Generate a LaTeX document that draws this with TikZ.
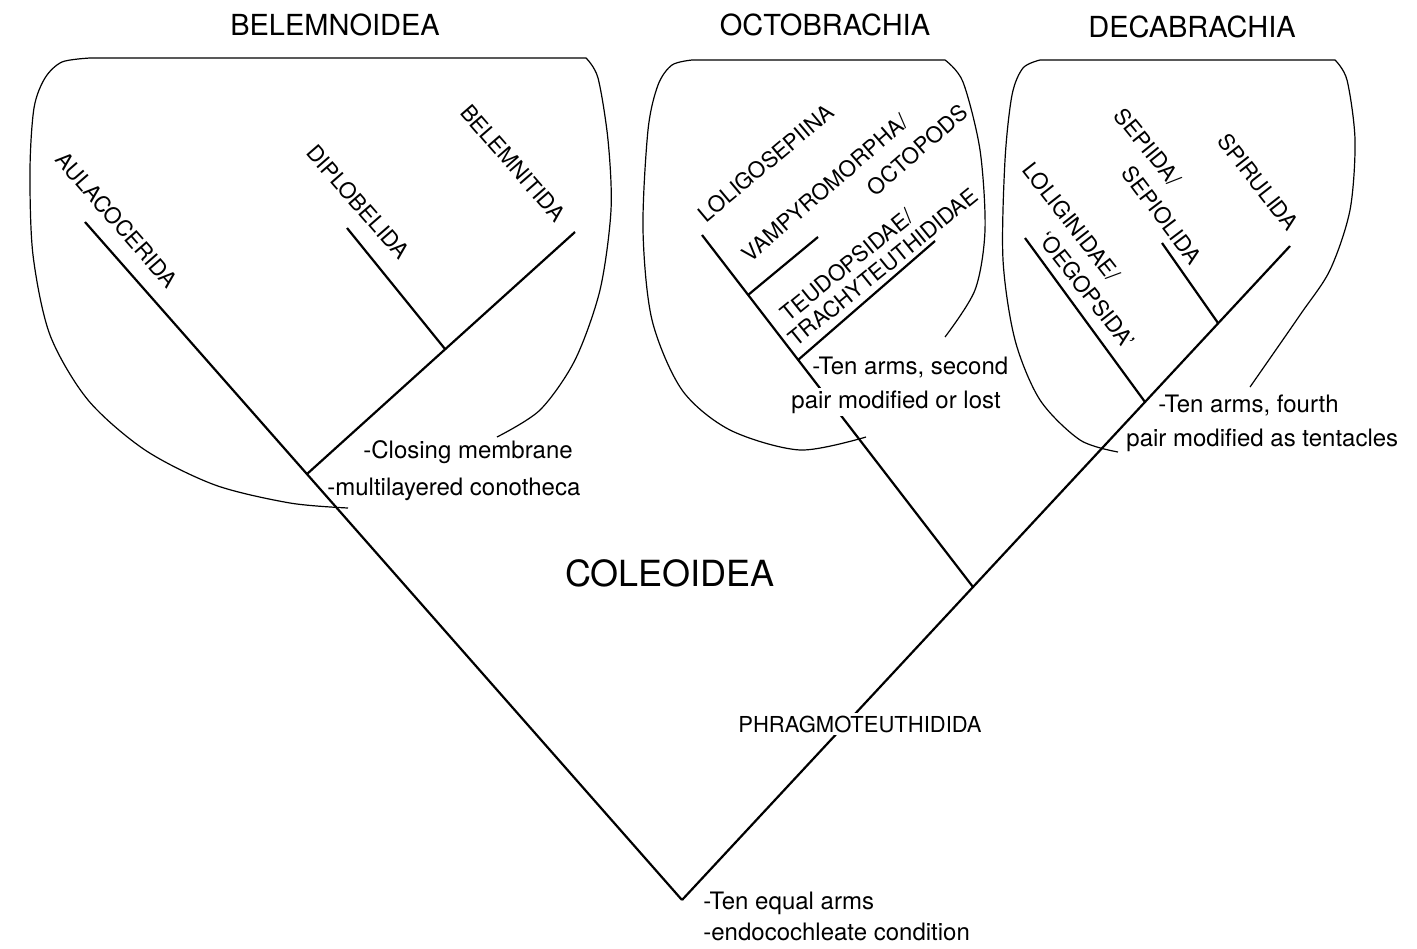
\documentclass[tikz,border=0pt]{standalone}
\usepackage{fontspec}
\setmainfont{TeX Gyre Heros}

\begin{document}
\begin{tikzpicture}[x=0.5pt,y=-0.5pt,
  branch/.style={line width=1.1pt},
  outline/.style={line width=0.6pt},
  taxon/.style={font=\fontsize{11}{13}\selectfont, inner sep=0pt},
  clade/.style={font=\fontsize{14.5}{17}\selectfont, inner sep=0pt},
  trait/.style={font=\fontsize{12}{14}\selectfont, anchor=west, inner sep=0pt},
  gap/.style={fill=white, inner sep=1.5pt}]
  \useasboundingbox (0,0) rectangle (1417,948);

  % branching points and tips
  \coordinate (root)   at (682,900);
  \coordinate (aul)    at (85,222);
  \coordinate (belemn) at (307,474);
  \coordinate (dipnd)  at (445,349);
  \coordinate (dip)    at (347,228);
  \coordinate (bel)    at (575,232);
  \coordinate (spi)    at (1290,246);
  \coordinate (octnd)  at (973,587);
  \coordinate (olgnd)  at (1145,402);
  \coordinate (sepnd)  at (1218,323);
  \coordinate (lsp)    at (702,235);
  \coordinate (vamnd)  at (748,295);
  \coordinate (teund)  at (798,360);
  \coordinate (vam)    at (818,237);
  \coordinate (teu)    at (935,241);
  \coordinate (olg)    at (1025,238);
  \coordinate (sep)    at (1162,243);

  \path[branch]
  (root) edge (aul)
  (belemn) edge (bel)
  (dipnd) edge (dip)
  (root) edge (spi)
  (octnd) edge (lsp)
  (vamnd) edge (vam)
  (teund) edge (teu)
  (olgnd) edge (olg)
  (sepnd) edge (sep)
  ;

  % clade outlines
  \draw[outline] plot[smooth] coordinates {(348,508) (290,503) (215,485) (145,450) (88,400)
      (50,335) (33,255) (30,170) (34,108) (45,78) (62,62) (90,58)}
    -- plot[smooth] coordinates {(586,58) (598,78) (608,140) (611,210) (600,290)
      (575,360) (540,410) (497,437)};
  \draw[outline] plot[smooth] coordinates {(866,437) (800,450) (730,430) (682,390) (652,320)
      (643,230) (648,130) (658,85) (672,65) (692,60)}
    -- plot[smooth] coordinates {(945,60) (963,82) (980,150) (985,230) (975,290) (945,337)};
  \draw[outline] plot[smooth] coordinates {(1118,452) (1080,440) (1040,400) (1015,340)
      (1003,260) (1005,160) (1012,95) (1023,68) (1040,60)}
    -- plot[smooth] coordinates {(1335,60) (1347,80) (1355,140) (1350,210) (1330,270)
      (1300,315) (1250,387)};

  % clade names
  \node[clade] (belemnoidea) at (335,25)  {BELEMNOIDEA};
  \node[clade] (octobrachia) at (825,25)  {OCTOBRACHIA};
  \node[clade] (decabrachia) at (1192,27) {DECABRACHIA};
  \node[font=\fontsize{18}{21}\selectfont] (coleoidea) at (670,573) {COLEOIDEA};
  \node[taxon, gap] (phragmo) at (860,724) {PHRAGMOTEUTHIDIDA};

  % tip labels
  \node[taxon, rotate=-49] (aullab) at (117,220) {AULACOCERIDA};
  \node[taxon, rotate=-49] (diplab) at (358,202) {DIPLOBELIDA};
  \node[taxon, rotate=-49] (bellab) at (513,163) {BELEMNITIDA};
  \node[taxon, rotate=40]  (lsplab) at (766,163) {LOLIGOSEPIINA};
  \node[taxon, rotate=41]  (vamlab) at (825,188) {VAMPYROMORPHA/};
  \node[taxon, rotate=41]  (octlab) at (917,150) {OCTOPODS};
  \node[taxon, rotate=39]  (teulab) at (847,265) {TEUDOPSIDAE/};
  \node[taxon, rotate=39]  (trclab) at (883,267) {TRACHYTEUTHIDIDAE};
  \node[taxon, rotate=-52] (olglab) at (1072,222) {LOLIGINIDAE/};
  \node[taxon, rotate=-52] (oeglab) at (1087,290) {`OEGOPSIDA'};
  \node[taxon, rotate=-51] (seplab) at (1148,147) {SEPIIDA/};
  \node[taxon, rotate=-53] (solab)  at (1162,215) {SEPIOLIDA};
  \node[taxon, rotate=-52] (spilab) at (1258,182) {SPIRULIDA};

  % characters
  \node[trait] (closing) at (363,452)  {-Closing membrane};
  \node[trait] (conoth)  at (327,489)  {-multilayered conotheca};
  \node[trait] (second)  at (812,368)  {-Ten arms, second};
  \node[trait, gap] (second2) at (788,402)  {pair modified or lost};
  \node[trait] (fourth)  at (1158,405) {-Ten arms, fourth};
  \node[trait] (fourth2) at (1126,440) {pair modified as tentacles};
  \node[trait] (equal)   at (703,903)  {-Ten equal arms};
  \node[trait] (endo)    at (703,932)  {-endocochleate condition};
\end{tikzpicture}
\end{document}
